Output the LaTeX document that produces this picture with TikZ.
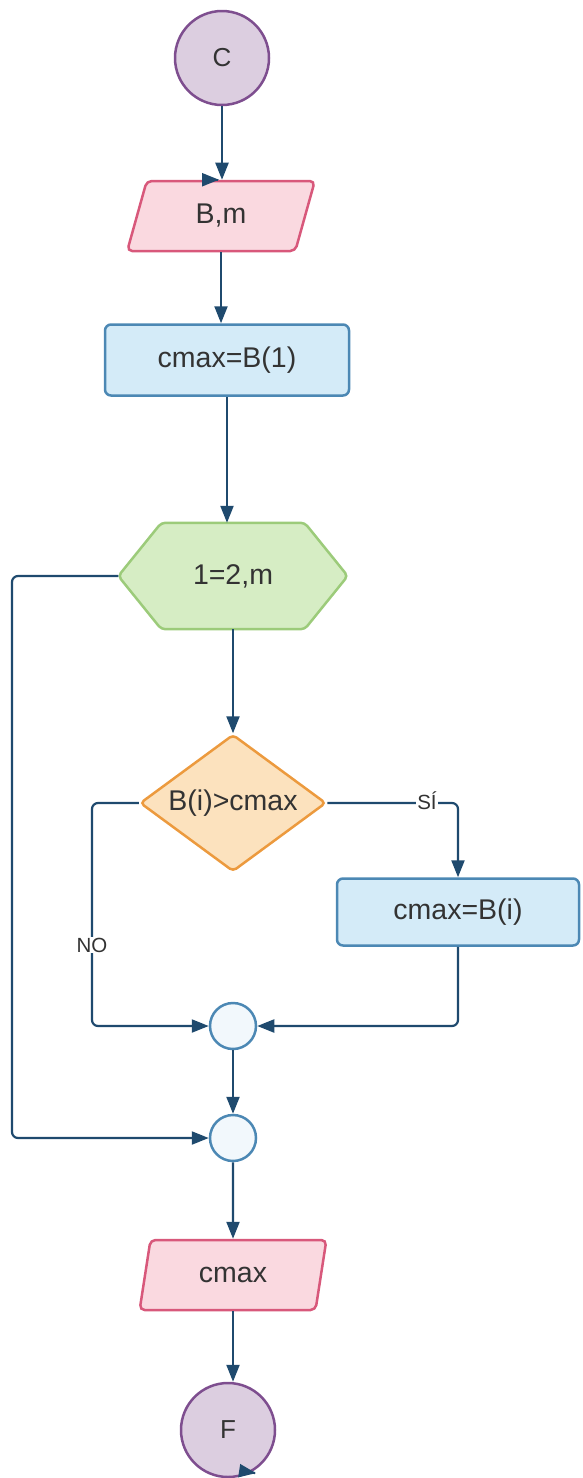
\documentclass[tikz,border=0pt]{standalone}
\usepackage{fontspec}
\setmainfont{Liberation Sans}
\usetikzlibrary{arrows.meta,shapes.geometric,calc,backgrounds}

\definecolor{termfill}{HTML}{DCCEE0}
\definecolor{termline}{HTML}{7E4E8F}
\definecolor{iofill}{HTML}{FAD9E0}
\definecolor{ioline}{HTML}{D8587B}
\definecolor{procfill}{HTML}{D4EBF8}
\definecolor{procline}{HTML}{4C88B4}
\definecolor{loopfill}{HTML}{D6EDC4}
\definecolor{loopline}{HTML}{9CCB7A}
\definecolor{decfill}{HTML}{FCE2BE}
\definecolor{decline}{HTML}{EC9A3E}
\definecolor{junfill}{HTML}{F2F8FC}
\definecolor{connc}{HTML}{1F4A6E}
\definecolor{txt}{HTML}{333333}

\begin{document}
\begin{tikzpicture}[x=1pt,y=-1pt,
  every node/.style={text=txt, font=\fontsize{28.5}{31}\selectfont},
  term/.style={circle, draw=termline, fill=termfill, line width=2.5pt,
    minimum size=94pt, inner sep=0pt, font=\fontsize{26}{29}\selectfont},
  io/.style={trapezium, trapezium left angle=74, trapezium right angle=106,
    trapezium stretches=true, draw=ioline, fill=iofill, line width=2.5pt,
    rounded corners=5pt, minimum width=188pt, minimum height=70pt, inner sep=0pt},
  proc/.style={rectangle, rounded corners=6pt, draw=procline, fill=procfill,
    line width=2.5pt, inner sep=0pt},
  hexbox/.style={rectangle, minimum width=229pt, minimum height=106pt, inner sep=0pt},
  hexline/.style={draw=loopline, fill=loopfill, line width=2.5pt, rounded corners=4pt},
  decision/.style={diamond, aspect=1.35, minimum width=186pt, minimum height=137pt,
    inner sep=0pt, draw=decline, fill=decfill, line width=2.5pt, rounded corners=4pt},
  junction/.style={circle, minimum size=46pt, inner sep=0pt, draw=procline,
    fill=junfill, line width=2.5pt},
  conn/.style={draw=connc, line width=2.2pt, rounded corners=6pt,
    -{Triangle[length=17pt,width=13pt]}},
  lbl/.style={fill=white, inner sep=1pt, font=\fontsize{20.5}{22}\selectfont},
]
\useasboundingbox (0,0) rectangle (582,1478);

% shapes
\node[term] (C) at (222,58) {C};
\node[io] (Bm) at (221,216) {B,m};
\node[proc, minimum width=244pt, minimum height=71pt] (cmax1) at (227,360) {cmax=B(1)};
\node[hexbox] (hex) at (233,576) {1=2,m};
\begin{scope}[on background layer]
  \draw[hexline] (hex.west) -- ($(hex.north west)+(43,0)$) -- ($(hex.north east)+(-43,0)$)
    -- (hex.east) -- ($(hex.south east)+(-43,0)$) -- ($(hex.south west)+(43,0)$) -- cycle;
\end{scope}
\node[decision] (dec) at (233,803) {B(i)>cmax};
\node[proc, minimum width=242pt, minimum height=67pt] (cmaxi) at (458,912) {cmax=B(i)};
\node[junction] (j1) at (233,1026) {};
\node[junction] (j2) at (233,1138) {};
\node[io] (out) at (233,1275) {cmax};
\node[term] (F) at (228,1430) {F};

% bend points of the side routes
\coordinate (loopL) at (12,576);
\coordinate (noL) at (92,803);
\coordinate (siR) at (458,803);

% connectors
\draw[conn] (C.south) -- (C.south |- Bm.north);
\draw[conn] (Bm.south) -- (Bm.south |- cmax1.north);
\draw[conn] (cmax1.south) -- (cmax1.south |- hex.north);
\draw[conn] (hex.south) -- (dec.north);
\draw[conn] (dec.east) -- (siR) -- (cmaxi.north);
\draw[conn] (dec.west) -- (noL) -- (noL |- j1) -- (j1.west);
\draw[conn] (cmaxi.south) -- (cmaxi.south |- j1) -- (j1.east);
\draw[conn] (hex.west) -- (loopL) -- (loopL |- j2) -- (j2.west);
\draw[conn] (j1.south) -- (j2.north);
\draw[conn] (j2.south) -- (out.north);
\draw[conn] (out.south) -- (out.south |- F.north);

% stray arrow tips sitting on the shape borders
\coordinate (tipA) at ($(Bm.north)+(-3,0)$);
\coordinate (tipB) at (255,1473);
\draw[conn] (tipA) -- ++(1,0);
\draw[conn] (tipB) -- ++(1,0.15);

% branch labels
\node[lbl] (si) at (427,801) {SÍ};
\node[lbl] (no) at (92,945) {NO};
\end{tikzpicture}
\end{document}
